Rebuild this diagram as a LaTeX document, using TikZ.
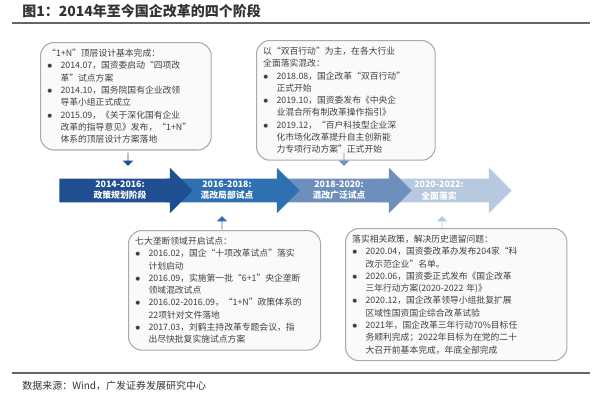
\documentclass[tikz,border=0pt]{standalone}
\usepackage{fontspec}
\newfontfamily\cjk{Noto Sans CJK SC}
\usetikzlibrary{shapes.arrows}
\definecolor{stA}{RGB}{31,78,145}
\definecolor{stB}{RGB}{46,112,178}
\definecolor{stC}{RGB}{110,142,188}
\definecolor{stD}{RGB}{183,201,222}
\definecolor{boxline}{RGB}{170,170,170}
\tikzset{
  note/.style={draw=boxline, line width=0.8pt, rounded corners=10pt, fill=gray!4, inner sep=5pt, align=left, anchor=north west, font=\cjk\fontsize{6.6}{9.2}\selectfont, text=black!75},
  stage/.style={single arrow, fill=#1, minimum height=100pt, minimum width=34pt, single arrow head extend=7.5pt, inner sep=1pt, align=center, font=\cjk\bfseries\fontsize{6.6}{8.5}\selectfont, text=white},
  pointer/.style={single arrow, fill=#1, minimum height=10pt, minimum width=8pt, single arrow head extend=2pt, inner sep=0pt}
}
\newcommand{\itm}{\makebox[10pt][l]{$\bullet$}}
\newcommand{\cnt}{\hspace*{10pt}}
\begin{document}
\begin{tikzpicture}[x=0.75pt,y=0.75pt,yscale=-1,xscale=1]
\useasboundingbox (0,0) rectangle (600,400);

% Title
\node (title) [anchor=west, inner sep=0pt, font=\cjk\bfseries\fontsize{10.5}{12}\selectfont, text=black!80] at (22,11) {图1：2014年至今国企改革的四个阶段};
\draw [line width=1pt, black!60] (12,23) -- (590,23);

% Notes
\node (n1) [note, text width=118pt] at (40,42) {“1+N”顶层设计基本完成：\\
\itm 2014.07，国资委启动“四项改\\ \cnt 革”试点方案\\
\itm 2014.10，国务院国有企业改领\\ \cnt 导革小组正式成立\\
\itm 2015.09，《关于深化国有企业\\ \cnt 改革的指导意见》发布，“1+N”\\ \cnt 体系的顶层设计方案落地};
\node (n2) [note, text width=124pt] at (256,40) {以“双百行动”为主，在各大行业\\ 全面落实混改：\\
\itm 2018.08，国企改革“双百行动”\\ \cnt 正式开始\\
\itm 2019.10，国资委发布《中央企\\ \cnt 业混合所有制改革操作指引》\\
\itm 2019.12，“百户科技型企业深\\ \cnt 化市场化改革提升自主创新能\\ \cnt 力专项行动方案”正式开始};
\node (n3) [note, text width=134pt] at (128,230) {七大垄断领域开启试点：\\
\itm 2016.02，国企“十项改革试点”落实\\ \cnt 计划启动\\
\itm 2016.09，实施第一批“6+1”央企垄断\\ \cnt 领域混改试点\\
\itm 2016.02-2016.09，“1+N”政策体系的\\ \cnt 22项针对文件落地\\
\itm 2017.03，刘鹤主持改革专题会议，指\\ \cnt 出尽快批复实施试点方案};
\node (n4) [note, text width=156pt] at (345,228) {落实相关政策，解决历史遗留问题：\\
\itm 2020.04，国资委改革办发布204家“科\\ \cnt 改示范企业”名单。\\
\itm 2020.06，国资委正式发布《国企改革\\ \cnt 三年行动方案(2020-2022 年)》\\
\itm 2020.12，国企改革领导小组批复扩展\\ \cnt 区域性国资国企综合改革试验\\
\itm 2021年，国企改革三年行动70\%目标任\\ \cnt 务顺利完成；2022年目标为在党的二十\\ \cnt 大召开前基本完成，年底全部完成};

% Stages
\node (s4) [stage=stD] at (439,190.5) {2020-2022:\\全面落实};
\node (s3) [stage=stC] at (339,190.5) {2018-2020:\\混改广泛试点};
\node (s2) [stage=stB] at (227,190.5) {2016-2018:\\混改局部试点};
\node (s1) [stage=stA] at (120,190.5) {2014-2016:\\政策规划阶段};

% Pointers
\node (p1) [pointer=stA, rotate=-90] at (128,159) {};
\node (p2) [pointer=stC, rotate=-90] at (344,159) {};
\node (p3) [pointer=stB, rotate=90] at (222,223) {};
\node (p4) [pointer=stD, rotate=90] at (442,223) {};

% Source
\draw [line width=1pt, black!60] (12,373) -- (590,373);
\node (src) [anchor=west, inner sep=0pt, font=\cjk\fontsize{7.5}{9}\selectfont, text=black!80] at (22,386) {数据来源：Wind，广发证券发展研究中心};
\end{tikzpicture}
\end{document}
